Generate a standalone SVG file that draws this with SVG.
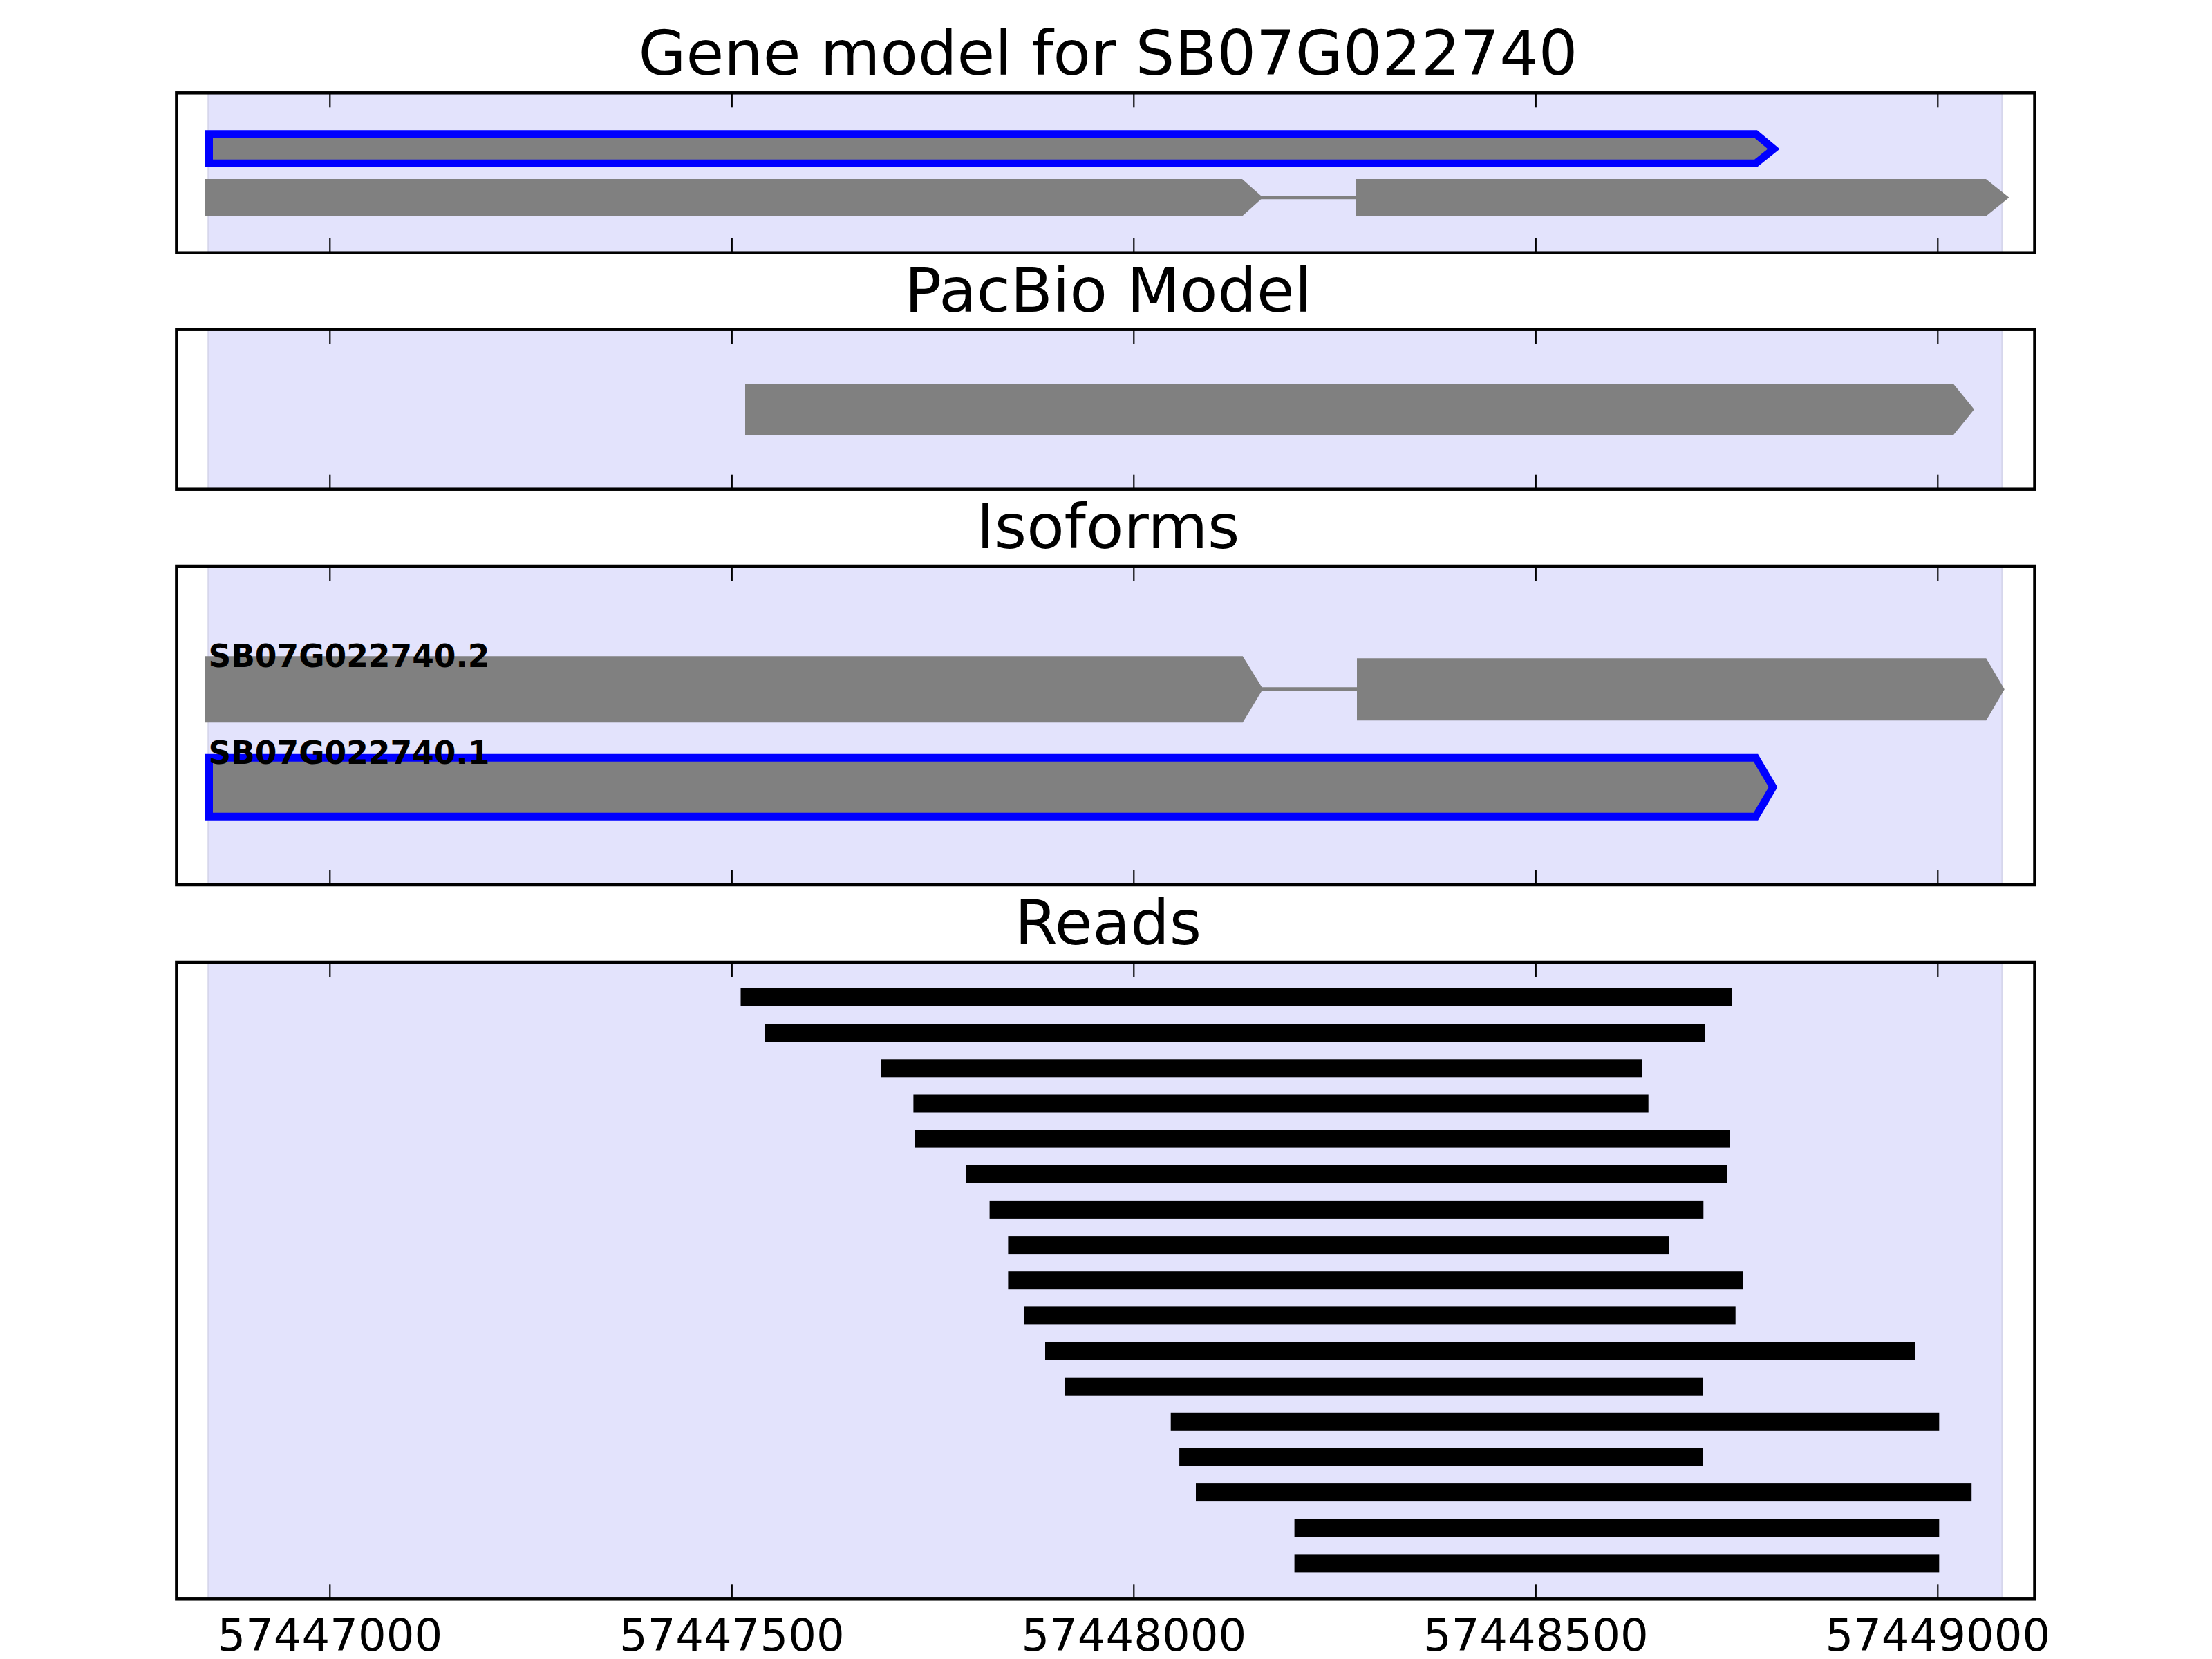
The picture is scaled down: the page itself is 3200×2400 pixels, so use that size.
<svg xmlns="http://www.w3.org/2000/svg" width="3200" height="2400" viewBox="0 0 3200 2400">
<style>
.bg{fill:#ffffff}
.span{fill:#E3E3FC;stroke:#D6D6EC;stroke-width:2.5}
.frame{fill:none;stroke:#000000;stroke-width:4.5}
.tick{stroke:#000000;stroke-width:2.2}
.title{font-family:"DejaVu Sans","Liberation Sans",sans-serif;font-size:89px;fill:#000000;text-anchor:middle}
.ticklbl{font-family:"DejaVu Sans","Liberation Sans",sans-serif;font-size:64px;fill:#000000;text-anchor:middle}
.iso{font-family:"DejaVu Sans","Liberation Sans",sans-serif;font-size:45.5px;font-weight:bold;fill:#000000}
.exon{fill:#808080;stroke:none}
.sel{fill:#808080;stroke:#0000FF;stroke-width:11;stroke-linejoin:miter;stroke-miterlimit:10}
.intron{stroke:#808080;stroke-width:5;fill:none}
.read{fill:#000000}
</style>
<defs>
<g id="ticks1">
<line class="tick" x1="477.3" y1="0" x2="477.3" y2="21"/>
<line class="tick" x1="1058.8" y1="0" x2="1058.8" y2="21"/>
<line class="tick" x1="1640.3" y1="0" x2="1640.3" y2="21"/>
<line class="tick" x1="2221.8" y1="0" x2="2221.8" y2="21"/>
<line class="tick" x1="2803.3" y1="0" x2="2803.3" y2="21"/>
</g>
<g id="ticks2">
<line class="tick" x1="477.3" y1="0" x2="477.3" y2="-21"/>
<line class="tick" x1="1058.8" y1="0" x2="1058.8" y2="-21"/>
<line class="tick" x1="1640.3" y1="0" x2="1640.3" y2="-21"/>
<line class="tick" x1="2221.8" y1="0" x2="2221.8" y2="-21"/>
<line class="tick" x1="2803.3" y1="0" x2="2803.3" y2="-21"/>
</g>
</defs>
<rect class="bg" x="0" y="0" width="3200" height="2400"/>

<g id="panel-gene-model">
<rect class="span" x="301.5" y="134.3" width="2595" height="231.4"/>
<text class="title" x="1603" y="108.3">Gene model for SB07G022740</text>
<g id="gm-SB07G022740-1">
<polygon class="sel" points="302.5,193.8 2540,193.8 2566,215.5 2540,236.2 302.5,236.2"/>
</g>
<g id="gm-SB07G022740-2">
<polygon class="exon" points="297,259 1797,259 1827,285.7 1797,312.7 297,312.7"/>
<polygon class="exon" points="1961,259 2873,259 2906.5,285.7 2873,312.7 1961,312.7"/>
</g>
<use href="#ticks1" y="134.3"/>
<use href="#ticks2" y="365.7"/>
<rect class="frame" x="255.4" y="134.3" width="2688.1" height="231.4"/>
</g>

<g id="panel-pacbio">
<rect class="span" x="301.5" y="476.7" width="2595" height="231"/>
<text class="title" x="1603" y="450.7">PacBio Model</text>
<g id="pacbio-model">
<polygon class="exon" points="1078,555 2825.6,555 2856,592.3 2825.6,629.7 1078,629.7"/>
</g>
<use href="#ticks1" y="476.7"/>
<use href="#ticks2" y="707.7"/>
<rect class="frame" x="255.4" y="476.7" width="2688.1" height="231"/>
</g>

<g id="panel-isoforms">
<rect class="span" x="301.5" y="819" width="2595" height="461"/>
<text class="title" x="1603" y="793">Isoforms</text>
<g id="iso-SB07G022740-2">
<polygon class="exon" points="297,949.3 1797.8,949.3 1827,996.7 1797.8,1045.3 297,1045.3"/>
<polygon class="exon" points="1963,952.3 2873.3,952.3 2899.8,997.3 2873.3,1042.3 1963,1042.3"/>
<text class="iso" x="301.4" y="965">SB07G022740.2</text>
</g>
<g id="iso-SB07G022740-1">
<polygon class="sel" points="302.5,1096.3 2540,1096.3 2565,1138.8 2540,1181.2 302.5,1181.2"/>
<text class="iso" x="301.4" y="1105">SB07G022740.1</text>
</g>
<use href="#ticks1" y="819"/>
<use href="#ticks2" y="1280"/>
<rect class="frame" x="255.4" y="819" width="2688.1" height="461"/>
</g>

<g id="panel-reads">
<rect class="span" x="301.5" y="1392" width="2595" height="921.3"/>
<text class="title" x="1603" y="1366">Reads</text>
<g id="reads">
<rect class="read" x="1071.5" y="1430" width="1433.5" height="26"/>
<rect class="read" x="1106" y="1481.2" width="1360" height="26"/>
<rect class="read" x="1274.5" y="1532.3" width="1101" height="26"/>
<rect class="read" x="1321.4" y="1583.5" width="1063.3" height="26"/>
<rect class="read" x="1323.5" y="1634.6" width="1179.5" height="26"/>
<rect class="read" x="1398" y="1685.8" width="1101" height="26"/>
<rect class="read" x="1431.6" y="1736.9" width="1032.7" height="26"/>
<rect class="read" x="1458.4" y="1788.1" width="955.6" height="26"/>
<rect class="read" x="1458.4" y="1839.2" width="1062.8" height="26"/>
<rect class="read" x="1481.3" y="1890.4" width="1029.4" height="26"/>
<rect class="read" x="1512" y="1941.5" width="1258" height="26"/>
<rect class="read" x="1540.6" y="1992.7" width="923.2" height="26"/>
<rect class="read" x="1693.7" y="2043.8" width="1111.6" height="26"/>
<rect class="read" x="1706.1" y="2095" width="757.7" height="26"/>
<rect class="read" x="1730" y="2146.1" width="1122.2" height="26"/>
<rect class="read" x="1872.6" y="2197.3" width="932.7" height="26"/>
<rect class="read" x="1872.6" y="2248.4" width="932.7" height="26"/>
</g>
<use href="#ticks1" y="1392"/>
<use href="#ticks2" y="2313.3"/>
<rect class="frame" x="255.4" y="1392" width="2688.1" height="921.3"/>
<g id="x-tick-labels">
<text class="ticklbl" x="477.3" y="2388">57447000</text>
<text class="ticklbl" x="1058.8" y="2388">57447500</text>
<text class="ticklbl" x="1640.3" y="2388">57448000</text>
<text class="ticklbl" x="2221.8" y="2388">57448500</text>
<text class="ticklbl" x="2803.3" y="2388">57449000</text>
</g>
</g>

<g id="connectors">
<line class="intron" x1="1824" y1="285.7" x2="1963" y2="285.7"/>
<line class="intron" x1="1824" y1="996.8" x2="1965" y2="996.8"/>
</g>
</svg>
